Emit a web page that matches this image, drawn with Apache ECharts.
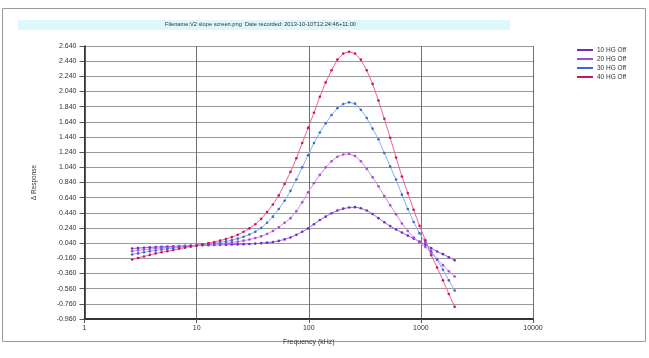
<!DOCTYPE html>
<html>
<head>
<meta charset="utf-8">
<script src="https://cdn.jsdelivr.net/npm/echarts@6/dist/echarts.min.js"></script>
<style>
  html, body { margin: 0; padding: 0; background: #fff; }
  #chart { width: 649px; height: 358px; }
</style>
</head>
<body>
<div id="chart"></div>
<script>
// frequency points (kHz)
const freqs = [2.66, 3.00, 3.39, 3.82, 4.31, 4.86, 5.48, 6.18, 6.97, 7.87, 8.87, 10.0, 11.29, 12.73,
  14.36, 16.20, 18.27, 20.61, 23.25, 26.22, 29.58, 33.37, 37.64, 42.46, 47.89, 54.02, 60.93, 68.73,
  77.53, 87.45, 98.63, 111.3, 125.5, 141.6, 159.7, 180.1, 203.2, 229.2, 258.5, 291.6, 328.9, 371.0,
  418.5, 472.1, 532.5, 600.6, 677.5, 764.2, 862.0, 972.1, 1096.5, 1236.9, 1395.2, 1573.8, 1775.2, 2002.4]

const hg10 = [-0.03, -0.025, -0.02, -0.016, -0.012, -0.008, -0.005, -0.002, 0.001, 0.004, 0.007, 0.01,
  0.012, 0.014, 0.016, 0.018, 0.02, 0.022, 0.024, 0.027, 0.03, 0.034, 0.04, 0.047,
  0.055, 0.07, 0.09, 0.115, 0.15, 0.19, 0.235, 0.29, 0.345, 0.39, 0.435, 0.47, 0.495, 0.51, 0.515, 0.50,
  0.47, 0.425, 0.37, 0.315, 0.265, 0.22, 0.18, 0.14, 0.10, 0.06, 0.02, -0.025, -0.07, -0.105, -0.145, -0.185]

const hg20 = [-0.065, -0.055, -0.045, -0.037, -0.03, -0.023, -0.017, -0.011, -0.005, 0.0, 0.005, 0.01,
  0.015, 0.02, 0.026, 0.033, 0.04, 0.05, 0.06, 0.073, 0.088, 0.107,
  0.13, 0.16, 0.20, 0.25, 0.31, 0.37, 0.46, 0.58, 0.71, 0.83, 0.94, 1.04, 1.12, 1.18, 1.21, 1.216, 1.19,
  1.12, 1.02, 0.91, 0.79, 0.66, 0.54, 0.42, 0.30, 0.20, 0.115, 0.05, -0.01, -0.085, -0.17, -0.25, -0.33, -0.40]

const hg30 = [-0.11, -0.095, -0.08, -0.068, -0.056, -0.045, -0.035, -0.025, -0.016, -0.008, 0.0, 0.01,
  0.018, 0.027, 0.037, 0.05, 0.063, 0.08, 0.1, 0.125, 0.155, 0.19,
  0.24, 0.31, 0.39, 0.49, 0.60, 0.73, 0.88, 1.04, 1.20, 1.36, 1.50, 1.62, 1.73, 1.82, 1.875, 1.897, 1.88,
  1.80, 1.69, 1.55, 1.41, 1.23, 1.05, 0.88, 0.68, 0.49, 0.32, 0.17, 0.05, -0.06, -0.18, -0.31, -0.45, -0.585]

const hg40 = [-0.175, -0.155, -0.135, -0.115, -0.095, -0.08, -0.065, -0.05, -0.035, -0.02, -0.005, 0.01,
  0.025, 0.04, 0.055, 0.075, 0.095, 0.12, 0.15, 0.19, 0.235, 0.29,
  0.36, 0.45, 0.55, 0.67, 0.82, 0.98, 1.16, 1.36, 1.56, 1.76, 1.97, 2.16, 2.32, 2.46, 2.54, 2.565, 2.54,
  2.46, 2.32, 2.14, 1.92, 1.68, 1.43, 1.17, 0.92, 0.70, 0.48, 0.27, 0.08, -0.12, -0.28, -0.45, -0.63, -0.80]

const seriesNames = ['10 HG Off', '20 HG Off', '30 HG Off', '40 HG Off']
const seriesValues = [hg10, hg20, hg30, hg40]
const markerColors = ['#6a2ec8', '#a848d8', '#3a66d6', '#cc1458']
const lineColors = ['#9a6ae6', '#d58ce8', '#86b0f2', '#f0609a']

const titleText = 'Filename:V2 slope screen.png  Date recorded: 2013-10-10T12:24:46+11:00'

const chart = echarts.init(document.getElementById('chart'))

const font = 'Liberation Sans, Arial, sans-serif'

chart.setOption({
  backgroundColor: '#fff',
  animation: false,
  textStyle: { fontFamily: font },
  graphic: [
    {
      type: 'rect',
      shape: { x: 2.5, y: 8.5, width: 643, height: 333 },
      style: { fill: 'none', stroke: '#9a9a9a', lineWidth: 1 },
      silent: true,
    },
    {
      type: 'rect',
      shape: { x: 18, y: 20, width: 492, height: 10 },
      style: { fill: '#def7fa' },
      silent: true,
    },
    {
      type: 'text',
      left: 265 - 100,
      top: 21.5,
      style: {
        text: titleText,
        x: 100,
        textAlign: 'center',
        fontSize: 5.7,
        fill: '#333',
        fontFamily: font,
      },
      silent: true,
    },
  ],
  legend: {
    orient: 'vertical',
    left: 572,
    top: 41,
    icon: 'rect',
    itemWidth: 16,
    itemHeight: 2,
    itemGap: 1,
    textStyle: { fontSize: 6.5, color: '#333', lineHeight: 8, padding: [0, 0, 0, -1] },
    data: seriesNames,
  },
  grid: {
    left: 84.5,
    right: 116,
    top: 46,
    bottom: 39,
  },
  xAxis: {
    type: 'log',
    logBase: 10,
    min: 1,
    max: 10000,
    name: 'Frequency (kHz)',
    nameLocation: 'middle',
    nameGap: 20,
    nameTextStyle: { fontSize: 7, color: '#333' },
    axisLine: { onZero: false, lineStyle: { color: '#333', width: 2 } },
    axisTick: { show: true, length: 4, lineStyle: { color: '#555' } },
    axisLabel: { fontSize: 7, color: '#333', margin: 6, formatter: (v) => String(Math.round(v)) },
    splitLine: { show: true, lineStyle: { color: '#707070', width: 1 } },
    minorSplitLine: { show: false },
  },
  yAxis: {
    type: 'value',
    min: -0.96,
    max: 2.64,
    interval: 0.2,
    name: 'Δ Response',
    nameLocation: 'middle',
    nameGap: 47,
    nameRotate: 90,
    nameTextStyle: { fontSize: 6.5, color: '#333' },
    axisLine: { show: true, onZero: false, lineStyle: { color: '#222', width: 1.5 } },
    axisTick: { show: true, length: 5, lineStyle: { color: '#555' } },
    axisLabel: { fontSize: 7, color: '#333', margin: 8, formatter: (v) => v.toFixed(3) },
    splitLine: { show: true, lineStyle: { color: '#9a9a9a', width: 1.2 } },
  },
  series: seriesValues.map((vals, k) => ({
    name: seriesNames[k],
    type: 'line',
    data: freqs.map((f, i) => [f, vals[i]]),
    symbol: 'circle',
    symbolSize: 2.6,
    showSymbol: true,
    itemStyle: { color: markerColors[k] },
    lineStyle: { color: lineColors[k], width: 1 },
  })),
})
</script>
</body>
</html>
